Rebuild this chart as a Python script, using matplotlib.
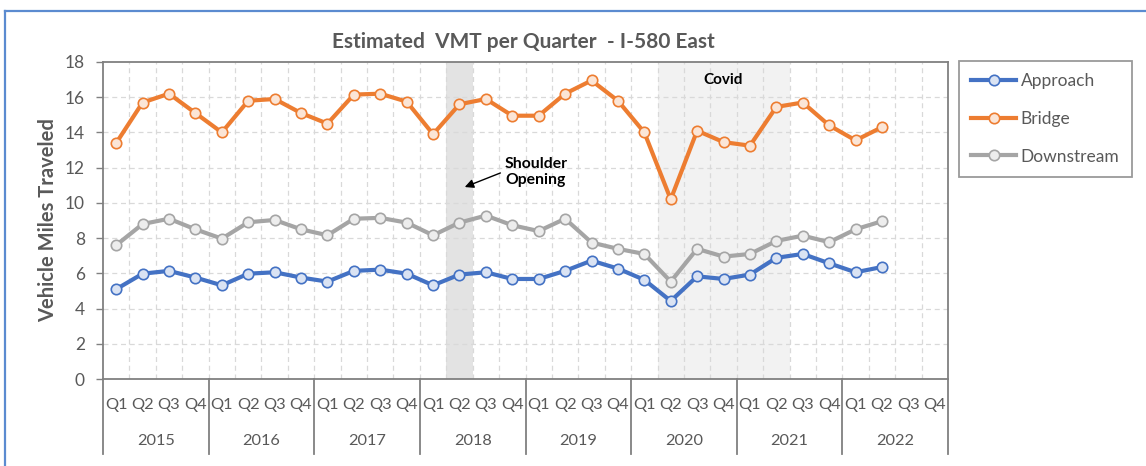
import matplotlib.pyplot as plt
import numpy as np
from matplotlib.lines import Line2D

plt.rcParams['font.family'] = ['Lato', 'DejaVu Sans']

years = ['2015', '2016', '2017', '2018', '2019', '2020', '2021', '2022']
quarters = ['Q1', 'Q2', 'Q3', 'Q4']

approach = [5.1, 5.98, 6.14, 5.76, 5.32, 5.98, 6.06, 5.76,
            5.53, 6.14, 6.21, 5.98, 5.32, 5.93, 6.06, 5.68,
            5.68, 6.14, 6.72, 6.27, 5.63, 4.43, 5.83, 5.68,
            5.93, 6.88, 7.1, 6.57, 6.06, 6.36]
bridge = [13.4, 15.7, 16.2, 15.1, 14.0, 15.8, 15.9, 15.1,
          14.5, 16.15, 16.2, 15.75, 13.9, 15.6, 15.9, 14.95,
          14.95, 16.2, 16.95, 15.8, 14.0, 10.2, 14.1, 13.45,
          13.25, 15.45, 15.7, 14.4, 13.55, 14.3]
downstream = [7.6, 8.8, 9.1, 8.5, 7.97, 8.9, 9.03, 8.5,
              8.16, 9.1, 9.15, 8.88, 8.16, 8.88, 9.28, 8.73,
              8.4, 9.1, 7.75, 7.39, 7.1, 5.53, 7.39, 6.95,
              7.1, 7.84, 8.14, 7.77, 8.5, 8.96]

txt = '#595959'
n_q = len(years) * 4

fig = plt.figure(figsize=(11.46, 4.66), dpi=100)
ax = fig.add_axes([103 / 1146, 1 - 379 / 466, 845 / 1146, 317 / 466])

# shaded periods: shoulder opening (Q2 2018) and covid (Q2 2020 - Q2 2021)
ax.axvspan(12.5, 13.5, color='#E3E3E3', zorder=0, lw=0)
ax.axvspan(20.5, 25.5, color='#F2F2F2', zorder=0, lw=0)

x = np.arange(len(approach))
series = [('Approach', approach, '#4472C4', '#DAE3F3'),
          ('Bridge', bridge, '#ED7D31', '#FBE5D6'),
          ('Downstream', downstream, '#A5A5A5', '#EDEDED')]
handles = []
for name, vals, col, face in series:
    h, = ax.plot(x, vals, color=col, lw=3, marker='o', ms=7.5,
                 mfc=face, mec=col, mew=1.2, label=name, zorder=3)
    handles.append(h)

ax.set_xlim(-0.5, n_q - 0.5)
ax.set_ylim(0, 18)
ax.set_yticks(np.arange(0, 19, 2))
ax.tick_params(axis='y', labelsize=12.5, colors=txt, length=5, width=1,
               color='#808080', pad=8)

# grid: horizontal at major ticks, vertical between quarters
for yv in np.arange(2, 18, 2):
    ax.axhline(yv, color='#D9D9D9', lw=0.9, ls=(0, (4, 3)), zorder=1)
for xv in np.arange(0.5, n_q - 0.5, 1):
    ax.axvline(xv, color='#D9D9D9', lw=0.9, ls=(0, (4, 3)), zorder=1)

for s in ax.spines.values():
    s.set_color('#808080')
    s.set_linewidth(1.3)

# two-level category axis
ax.set_xticks(np.arange(n_q))
ax.set_xticklabels(quarters * len(years), fontsize=11.8, color=txt)
ax.tick_params(axis='x', length=0, pad=14)
trans = ax.get_xaxis_transform()
for i, yr in enumerate(years):
    ax.text(i * 4 + 1.5, -0.196, yr, transform=trans, ha='center',
            va='center', fontsize=11.8, color=txt)
for b in np.arange(-0.5, n_q, 4):
    ax.plot([b, b], [0, -0.237], transform=trans, color='#808080',
            lw=1.3, clip_on=False)

ax.set_ylabel('Vehicle Miles Traveled', fontsize=14.5, fontweight='bold',
              color=txt, labelpad=5)
fig.text(0.457, 0.91, 'Estimated  VMT per Quarter  - I-580 East',
         ha='center', va='center', fontsize=15, fontweight='bold', color=txt)

ax.text(23.0, 17.0, 'Covid', fontsize=11, fontweight='bold', ha='center',
        va='center')
ax.text(14.72, 11.75, 'Shoulder\nOpening', fontsize=11.3, fontweight='bold',
        ha='left', va='center', linespacing=1.15)
ax.annotate('', xy=(13.2, 10.9), xytext=(14.55, 11.7),
            arrowprops=dict(arrowstyle='-|>', color='black', lw=1,
                            mutation_scale=13, shrinkA=0, shrinkB=0))

leg = fig.legend(handles=handles, loc='upper left',
                 bbox_to_anchor=(959 / 1146, 1 - 61 / 466), fontsize=12.5,
                 frameon=True, fancybox=False, edgecolor='#808080',
                 labelcolor=txt, handlelength=2.6, labelspacing=1.25,
                 borderpad=0.7, handletextpad=0.25, borderaxespad=0)
leg.get_frame().set_linewidth(1.3)

# outer frame
fig.add_artist(Line2D([5 / 1146, 1.0], [1 - 11 / 466] * 2,
                      transform=fig.transFigure, color='#5B8BD0', lw=1.6))
fig.add_artist(Line2D([5 / 1146] * 2, [0.0, 1 - 11 / 466],
                      transform=fig.transFigure, color='#5B8BD0', lw=1.6))

fig.savefig('out.png', dpi=100)
